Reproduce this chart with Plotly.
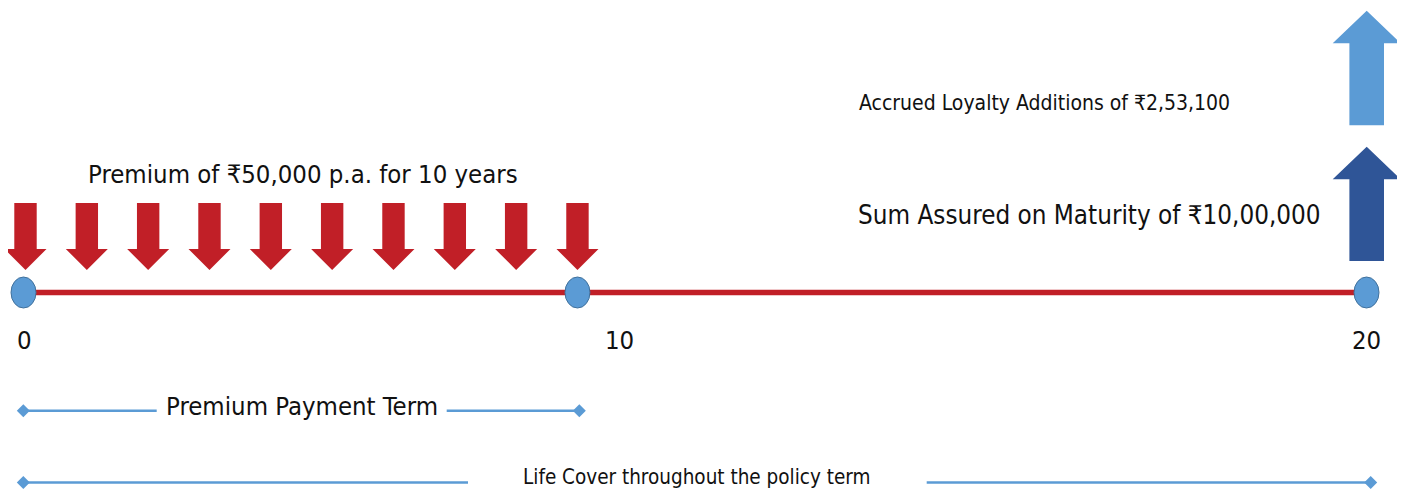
import plotly.graph_objects as go

# ---------------- data ----------------
premium_years = [1, 2, 3, 4, 5, 6, 7, 8, 9, 10]
annual_premium = 50000
premium_term_years = 10
policy_term_years = 20
sum_assured_maturity = 1000000
loyalty_additions = 253100
timeline_labels = ["0", "10", "20"]
bracket_labels = ["Premium Payment Term", "Life Cover throughout the policy term"]


def inr(v):
    s = str(int(v))
    if len(s) <= 3:
        return s
    head, tail = s[:-3], s[-3:]
    parts = []
    while len(head) > 2:
        parts.insert(0, head[-2:])
        head = head[:-2]
    if head:
        parts.insert(0, head)
    return ",".join(parts + [tail])


# ---------------- layout constants (diagram geometry) ----------------
W, H = 1405, 490
PAGE_OFF = 8  # default body margin of the html page
FONT = "DejaVu Sans Condensed, Liberation Sans Narrow, sans-serif"
RED = "#C11F27"
LIGHT = "#5B9BD5"
DARK = "#2F5597"
CIRCLE_LINE = "#41719C"

X_START = 23.5
STEP = 61.33
ARROW0 = 25.5
X_END = 1366.5
Y_LINE = 292.5


def arrow_x(i):
    return ARROW0 + STEP * i


fig = go.Figure()
shapes = []

# timeline red line
shapes.append(dict(type="line", x0=X_START, x1=X_END, y0=Y_LINE, y1=Y_LINE,
                   line=dict(color=RED, width=5.5), layer="below"))

# premium arrows (down)
for i, _yr in enumerate(premium_years):
    cx = arrow_x(i)
    sw, hw = 11.2, 21
    top, hb, tip = 203, 249, 270
    path = (f"M {cx-sw},{top} L {cx+sw},{top} L {cx+sw},{hb} L {cx+hw},{hb} "
            f"L {cx},{tip} L {cx-hw},{hb} L {cx-sw},{hb} Z")
    shapes.append(dict(type="path", path=path, fillcolor=RED, line=dict(width=0)))

# timeline nodes
node_x = [X_START, arrow_x(len(premium_years) - 1), X_END]
for nx in node_x:
    shapes.append(dict(type="circle", x0=nx - 12.5, x1=nx + 12.5,
                       y0=Y_LINE - 15.5, y1=Y_LINE + 15.5,
                       fillcolor=LIGHT, line=dict(color=CIRCLE_LINE, width=1)))


# maturity arrows (up)
def up_arrow(cx, tip, hb, bottom):
    sw, hw = 17.3, 34
    return (f"M {cx},{tip} L {cx+hw},{hb} L {cx+sw},{hb} L {cx+sw},{bottom} "
            f"L {cx-sw},{bottom} L {cx-sw},{hb} L {cx-hw},{hb} Z")


shapes.append(dict(type="path", path=up_arrow(1366.7, 10.7, 43.3, 125.3),
                   fillcolor=LIGHT, line=dict(width=0)))
shapes.append(dict(type="path", path=up_arrow(1366.7, 146.7, 179.3, 261),
                   fillcolor=DARK, line=dict(width=0)))

# bracket lines
brackets = [
    (410.7, [(23.3, 156.7), (446.7, 579.3)]),
    (482.5, [(23.3, 468.0), (926.7, 1370.7)]),
]
for y, segs in brackets:
    for a, b in segs:
        shapes.append(dict(type="line", x0=a, x1=b, y0=y, y1=y,
                           line=dict(color=LIGHT, width=2.6)))
    fig.add_trace(go.Scatter(x=[segs[0][0], segs[-1][1]], y=[y, y], mode="markers",
                             marker=dict(symbol="diamond", size=10, color=LIGHT),
                             hoverinfo="skip", showlegend=False, cliponaxis=False))

annotations = []


def txt(text, x, y, size, xanchor="center"):
    annotations.append(dict(text=text, x=x, y=y, xref="x", yref="y",
                            xanchor=xanchor, yanchor="middle", showarrow=False,
                            font=dict(family=FONT, size=size, color="#111111")))


txt(f"Premium of ₹{inr(annual_premium)} p.a. for {premium_term_years} years", 303, 174, 25.5)
txt(f"Accrued Loyalty Additions of ₹{inr(loyalty_additions)}", 1044.5, 103, 21)
txt(f"Sum Assured on Maturity of ₹{inr(sum_assured_maturity)}", 1089.5, 215, 25.8)
for lab, lx in zip(timeline_labels, [24, 619, 1366]):
    txt(lab, lx, 340, 25.5)
txt(bracket_labels[0], 301.5, 406, 25.5)
txt(bracket_labels[1], 696.5, 477, 20.5)

fig.update_layout(
    width=W - PAGE_OFF, height=H - PAGE_OFF,
    margin=dict(l=0, r=0, t=0, b=0),
    paper_bgcolor="white", plot_bgcolor="white",
    xaxis=dict(range=[PAGE_OFF, W], visible=False, fixedrange=True),
    yaxis=dict(range=[H, PAGE_OFF], visible=False, fixedrange=True),
    shapes=shapes, annotations=annotations, showlegend=False,
)

fig.write_html("out.html")
